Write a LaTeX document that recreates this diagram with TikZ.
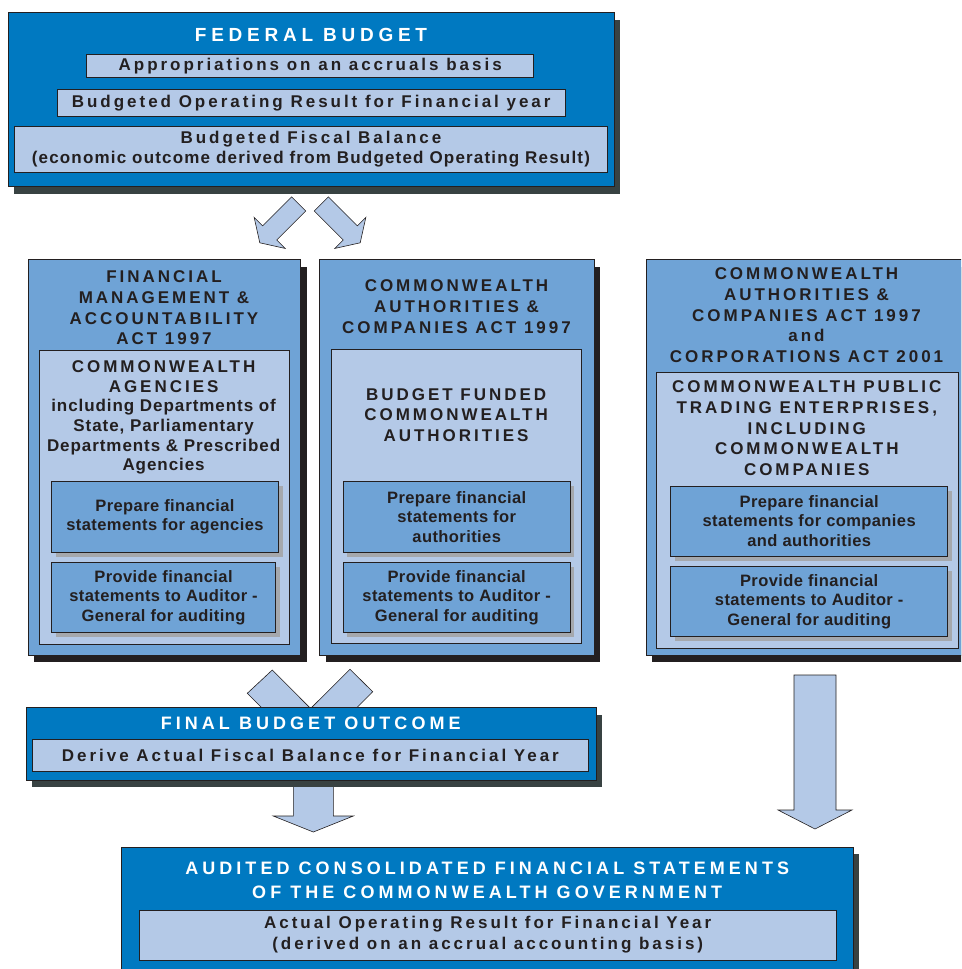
\documentclass[tikz,border=0pt]{standalone}
\usepackage{fontspec}
\setmainfont{Liberation Sans}
\usetikzlibrary{shadows}
\definecolor{fedblue}{HTML}{0079C1}
\definecolor{actblue}{HTML}{6FA3D6}
\definecolor{lightblue}{HTML}{B4C9E7}
\definecolor{ink}{HTML}{231F20}
\definecolor{deepshade}{HTML}{384242}
\definecolor{softshade}{HTML}{A5A8AD}
\newcommand\lsp[1]{\addfontfeature{LetterSpace=#1}}
\tikzset{>=stealth}

\begin{document}
\begin{tikzpicture}[x=1pt,y=-1pt,
    outerbox/.style={draw=ink, line width=0.6pt, fill=fedblue, inner sep=0pt,
      drop shadow={shadow xshift=6pt, shadow yshift=-7pt, fill=deepshade, opacity=1}},
    actbox/.style={draw=ink, line width=0.6pt, fill=actblue, inner sep=0pt,
      drop shadow={shadow xshift=6pt, shadow yshift=-7pt, fill=ink, opacity=1}},
    lbox/.style={draw=ink, line width=0.6pt, fill=lightblue, inner sep=0pt, text=ink},
    subbox/.style={draw=ink, line width=0.6pt, fill=actblue, inner sep=0pt, text=ink,
      drop shadow={shadow xshift=4pt, shadow yshift=-4.5pt, fill=softshade, opacity=1}},
    arrowline/.style={draw=ink, line width=0.6pt, fill=lightblue},
    ttl/.style={text=white, align=center, font=\fontsize{19}{22}\selectfont\bfseries\lsp{25}},
    ttlb/.style={text=white, align=center, font=\fontsize{18}{24}\selectfont\bfseries\lsp{22.5}},
    captext/.style={text=ink, align=center, font=\fontsize{17}{20.7}\selectfont\bfseries\lsp{17.5}},
    wide/.style={align=center, font=\fontsize{17}{21}\selectfont\bfseries\lsp{17.5}},
    tight/.style={align=center, font=\fontsize{16.5}{19.3}\selectfont\bfseries\lsp{2.5}},
    pics/slab/.style args={#1/#2/#3/#4}{code={
      \draw[arrowline] (-#1,0) -- (#1,0) -- (#1,#2) -- (#3,#2) -- (0,#2+#4)
        -- (-#3,#2) -- (-#1,#2) -- cycle;}}]
  \useasboundingbox (0,0) rectangle (961,969);
  \clip (0,0) rectangle (961,969);

  % federal budget
  \pic[rotate=-45] (splitL) at (298.7,203.9) {slab=10/41/22/14};
  \pic[rotate=45] (splitR) at (321.3,203.9) {slab=10/41/22/14};
  \node[outerbox, anchor=north west, minimum width=606, minimum height=174] (fed) at (8,12.3) {};
  \node[ttl] (fedttl) at (311,35) {FEDERAL BUDGET};
  \node[lbox, wide, minimum width=447, minimum height=23.3] (appr) at (310.2,65.7)
    {Appropriations on an accruals basis};
  \node[lbox, wide, minimum width=508, minimum height=26.7] (bor) at (311.2,102.7)
    {Budgeted Operating Result for Financial year};
  \node[lbox, wide, font=\fontsize{17}{20}\selectfont\bfseries, minimum width=592.3, minimum height=45.6] (bfb) at (310.9,149.5)
    {{\lsp{17.5}Budgeted Fiscal Balance}\\{\lsp{7}(economic outcome derived from Budgeted Operating Result)}};

  % FMA act
  \node[actbox, anchor=north west, minimum width=272.7, minimum height=395.7] (fma) at (27.7,259.3) {};
  \node[captext] (fmattl) at (164,308) {FINANCIAL\\MANAGEMENT \&\\ACCOUNTABILITY\\ACT 1997};
  \node[lbox, anchor=north west, minimum width=249.8, minimum height=294] (agin) at (38.7,350) {};
  \node[captext, font=\fontsize{17}{19.7}\selectfont\bfseries] (agtxt) at (163.6,417.5)
    {{\lsp{17.5}COMMONWEALTH}\\{\lsp{17.5}AGENCIES}\\{\lsp{5.5}including Departments of}\\
     {\lsp{5.5}State, Parliamentary}\\{\lsp{5.5}Departments \& Prescribed}\\{\lsp{5.5}Agencies}};
  \node[subbox, tight, minimum width=227, minimum height=70.6] (agprep) at (165,517)
    {Prepare financial\\statements for agencies};
  \node[subbox, tight, minimum width=224, minimum height=70.4] (agprov) at (163.5,597.5)
    {Provide financial\\statements to Auditor -\\General for auditing};

  % CAC act
  \node[actbox, anchor=north west, minimum width=274.3, minimum height=395.7] (cac) at (319.4,259.3) {};
  \node[captext] (cacttl) at (456.5,306.7) {COMMONWEALTH\\AUTHORITIES \&\\COMPANIES ACT 1997};
  \node[lbox, anchor=north west, minimum width=249.8, minimum height=294] (auin) at (331.2,349.3) {};
  \node[captext] (autxt) at (456.1,415) {BUDGET FUNDED\\COMMONWEALTH\\AUTHORITIES};
  \node[subbox, tight, minimum width=227.4, minimum height=70.6] (auprep) at (456.7,517)
    {Prepare financial\\statements for\\authorities};
  \node[subbox, tight, minimum width=227.4, minimum height=70.4] (auprov) at (456.7,597.5)
    {Provide financial\\statements to Auditor -\\General for auditing};

  % CAC + corporations act
  \pic (gbedown) at (815,675) {slab=21/135/37/19};
  \node[actbox, anchor=north west, minimum width=321, minimum height=395.7] (gbe) at (646,259.3) {};
  \node[captext] (gbettl) at (806.5,315.3)
    {COMMONWEALTH\\AUTHORITIES \&\\COMPANIES ACT 1997\\and\\CORPORATIONS ACT 2001};
  \node[lbox, anchor=north west, minimum width=301.7, minimum height=276.3] (gbein) at (656,371.7) {};
  \node[captext] (gbetxt) at (806.8,428.3)
    {COMMONWEALTH PUBLIC\\TRADING ENTERPRISES,\\INCLUDING\\COMMONWEALTH\\COMPANIES};
  \node[subbox, tight, minimum width=277, minimum height=70] (gbeprep) at (809.2,521)
    {Prepare financial\\statements for companies\\and authorities};
  \node[subbox, tight, minimum width=277, minimum height=70] (gbeprov) at (809.2,601.7)
    {Provide financial\\statements to Auditor -\\General for auditing};

  % final budget outcome
  \draw[arrowline] (247.3,693.3) -- (272.3,670) -- (340,738) -- (315,761) -- cycle;
  \draw[arrowline] (372.7,691.7) -- (350,669.3) -- (282,737) -- (305,760) -- cycle;
  \pic (fbodown) at (313.3,770) {slab=20/46/40/16};
  \node[outerbox, anchor=north west, minimum width=570, minimum height=72.7] (fbo) at (25.7,707.3) {};
  \node[ttlb] (fbottl) at (310.7,723.3) {FINAL BUDGET OUTCOME};
  \node[lbox, wide, minimum width=555.7, minimum height=31.7] (afb) at (310.4,755.2)
    {Derive Actual Fiscal Balance for Financial Year};

  % audited statements
  \node[outerbox, anchor=north west, minimum width=731.7, minimum height=160] (acfs) at (121.3,846.7) {};
  \node[ttlb] (acfsttl) at (487.2,880.3)
    {AUDITED CONSOLIDATED FINANCIAL STATEMENTS\\OF THE COMMONWEALTH GOVERNMENT};
  \node[lbox, wide, minimum width=697.4, minimum height=50] (aor) at (487.7,935)
    {Actual Operating Result for Financial Year\\(derived on an accrual accounting basis)};
\end{tikzpicture}
\end{document}
